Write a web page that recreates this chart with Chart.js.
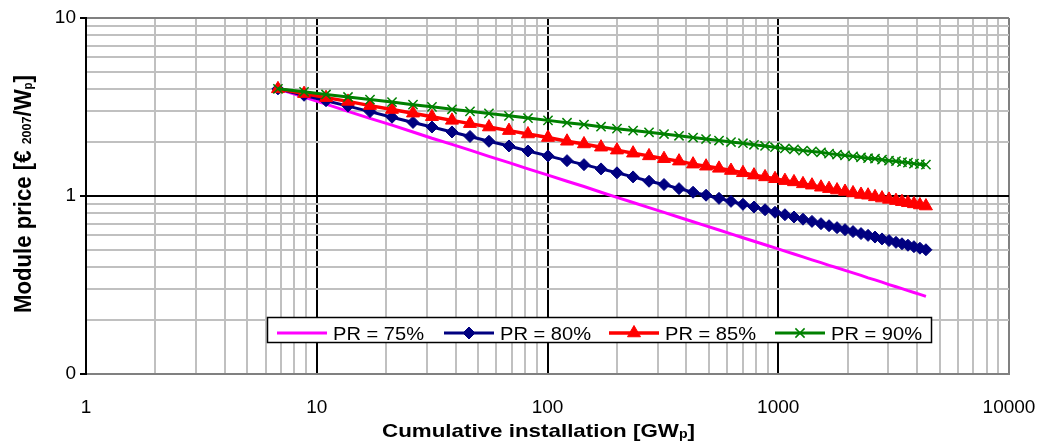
<!DOCTYPE html>
<html>
<head>
<meta charset="utf-8">
<script src="https://cdn.jsdelivr.net/npm/chart.js@4.4.0/dist/chart.umd.min.js"></script>
<style>
  html, body { margin: 0; padding: 0; background: #fff; }
  #wrap { width: 1042px; height: 443px; }
</style>
</head>
<body>
<div id="wrap"><canvas id="priceChart"></canvas></div>
<script>
// cumulative installation [GWp]
const installation = [6.79, 8.81, 10.97, 13.66, 17.01, 21.19, 26.13, 31.57, 38.55, 46.14,
  55.75, 68.08, 82.3, 100.5, 121.5, 143.9, 170.6, 200.0, 234.9, 275.4,
  319.8, 371.5, 427.4, 486.6, 553.7, 624.0, 703.2, 785, 876.6, 968.3,
  1069, 1170, 1280, 1400, 1532, 1660, 1798, 1947, 2109, 2284,
  2450, 2626, 2816, 3020, 3238, 3437, 3648, 3873, 4111, 4365];

// module price [EUR2007/Wp] for each progress ratio
const pr75 = [4.00, 3.59, 3.28, 2.99, 2.73, 2.50, 2.29, 2.11, 1.95, 1.81,
  1.67, 1.54, 1.42, 1.31, 1.21, 1.13, 1.05, 0.983, 0.919, 0.860,
  0.809, 0.760, 0.717, 0.680, 0.644, 0.613, 0.583, 0.557, 0.532, 0.511,
  0.490, 0.472, 0.455, 0.438, 0.422, 0.408, 0.395, 0.382, 0.370, 0.358,
  0.347, 0.338, 0.328, 0.318, 0.309, 0.302, 0.294, 0.287, 0.280, 0.273];
const pr80 = [4.00, 3.68, 3.43, 3.20, 2.98, 2.77, 2.59, 2.44, 2.29, 2.16,
  2.03, 1.91, 1.79, 1.68, 1.58, 1.50, 1.42, 1.35, 1.28, 1.21,
  1.16, 1.10, 1.05, 1.01, 0.970, 0.933, 0.898, 0.867, 0.837, 0.810,
  0.785, 0.762, 0.741, 0.720, 0.699, 0.681, 0.664, 0.647, 0.631, 0.615,
  0.601, 0.588, 0.574, 0.562, 0.549, 0.539, 0.529, 0.519, 0.509, 0.499];
const pr85 = [4.00, 3.76, 3.57, 3.40, 3.22, 3.06, 2.92, 2.79, 2.66, 2.55,
  2.44, 2.33, 2.23, 2.13, 2.03, 1.96, 1.88, 1.81, 1.74, 1.68,
  1.62, 1.57, 1.51, 1.47, 1.43, 1.39, 1.35, 1.31, 1.28, 1.25,
  1.22, 1.20, 1.17, 1.15, 1.12, 1.10, 1.08, 1.06, 1.04, 1.02,
  1.01, 0.989, 0.973, 0.957, 0.942, 0.929, 0.916, 0.903, 0.890, 0.878];
const pr90 = [4.00, 3.85, 3.72, 3.60, 3.48, 3.37, 3.26, 3.17, 3.07, 2.99,
  2.91, 2.82, 2.74, 2.66, 2.58, 2.52, 2.45, 2.39, 2.33, 2.28,
  2.23, 2.18, 2.13, 2.09, 2.05, 2.01, 1.98, 1.94, 1.91, 1.88,
  1.85, 1.83, 1.80, 1.78, 1.76, 1.73, 1.71, 1.69, 1.67, 1.65,
  1.63, 1.62, 1.60, 1.58, 1.57, 1.55, 1.54, 1.52, 1.51, 1.50];

const seriesLabels = ['PR = 75%', 'PR = 80%', 'PR = 85%', 'PR = 90%'];
const xTickValues = [1, 10, 100, 1000, 10000];
const xTickLabels = ['1', '10', '100', '1000', '10000'];
const yTickValues = [0.1, 1, 10];
const yTickLabels = ['0', '1', '10'];

const FONT = "'Liberation Sans', Arial, sans-serif";
Chart.defaults.font.family = FONT;
Chart.defaults.color = '#000';

const pts = arr => installation.map((x, i) => ({ x: x, y: arr[i] }));

// 1..9 ticks per decade, for the grid
function logTicks(min, max) {
  const out = [];
  for (let d = min; d < max * 1.0001; d *= 10) {
    for (let m = 1; m < 10; m++) {
      const v = m * d;
      if (v > max * 1.0001) break;
      out.push({ value: v });
    }
  }
  return out;
}
const findIdx = (vals, v) => vals.findIndex(t => Math.abs(Math.log10(t) - Math.log10(v)) < 1e-9);

const GRID = '#c0c0c0';
const FRAME = '#808080';

// axis titles + legend drawn by hand (subscripts, legend inside the plot)
function drawRich(ctx, parts, cx, base, target) {
  let w = 0;
  const widths = parts.map(p => { ctx.font = p.font; const m = ctx.measureText(p.t).width; w += m; return m; });
  const k = target / w;
  ctx.save();
  ctx.translate(cx - target / 2, base);
  ctx.scale(k, 1);
  let x = 0;
  parts.forEach((p, i) => {
    ctx.font = p.font;
    ctx.fillText(p.t, x, p.dy || 0);
    x += widths[i];
  });
  ctx.restore();
}

const decor = {
  id: 'decor',
  afterDraw(chart) {
    const ctx = chart.ctx;
    ctx.save();
    ctx.fillStyle = '#000';
    ctx.textBaseline = 'alphabetic';
    ctx.textAlign = 'left';

    // x title
    drawRich(ctx, [
      { t: 'Cumulative installation [GW', font: 'bold 19px ' + FONT },
      { t: 'p', font: 'bold 12px ' + FONT, dy: 1 },
      { t: ']', font: 'bold 19px ' + FONT }
    ], 538.5, 437, 313);

    // y title
    ctx.save();
    ctx.translate(31, 194);
    ctx.rotate(-Math.PI / 2);
    drawRich(ctx, [
      { t: 'Module price [\u20ac ', font: 'bold 23px ' + FONT },
      { t: '2007', font: 'bold 13px ' + FONT, dy: 0 },
      { t: '/W', font: 'bold 23px ' + FONT },
      { t: 'p', font: 'bold 12px ' + FONT, dy: 1 },
      { t: ']', font: 'bold 23px ' + FONT }
    ], 0, 0, 238);
    ctx.restore();

    // legend box
    ctx.fillStyle = '#fff';
    ctx.fillRect(267, 317, 665, 26);
    ctx.strokeStyle = '#000';
    ctx.lineWidth = 1.5;
    ctx.strokeRect(267.5, 317.5, 664, 25);

    const starts = [277, 444, 609, 775];
    chart.data.datasets.forEach((ds, i) => {
      const x0 = starts[i];
      const y = 333;
      ctx.strokeStyle = ds.borderColor;
      ctx.lineWidth = ds.borderWidth;
      ctx.beginPath();
      ctx.moveTo(x0, y);
      ctx.lineTo(x0 + 50, y);
      ctx.stroke();
      if (ds.pointRadius > 0) {
        ctx.fillStyle = ds.backgroundColor;
        ctx.strokeStyle = ds.borderColor;
        ctx.lineWidth = ds.pointBorderWidth;
        Chart.helpers.drawPoint(ctx, {
          pointStyle: ds.pointStyle, radius: ds.pointRadius, rotation: 0, borderWidth: ds.pointBorderWidth
        }, x0 + 25, y);
      }
      ctx.fillStyle = '#000';
      drawRich(ctx, [{ t: ds.label, font: '19px ' + FONT }], x0 + 56 + 45.5, 340, 91);
    });
    ctx.restore();
  }
};

new Chart(document.getElementById('priceChart'), {
  type: 'line',
  data: {
    datasets: [
      { label: seriesLabels[0], data: pts(pr75), borderColor: '#ff00ff', backgroundColor: '#ff00ff',
        borderWidth: 3, pointRadius: 0, order: 4 },
      { label: seriesLabels[1], data: pts(pr80), borderColor: '#000080', backgroundColor: '#000080',
        borderWidth: 3, pointStyle: 'rectRot', pointRadius: 6, pointBorderWidth: 1, order: 3 },
      { label: seriesLabels[2], data: pts(pr85), borderColor: '#ff0000', backgroundColor: '#ff0000',
        borderWidth: 3.5, pointStyle: 'triangle', pointRadius: 7.5, pointBorderWidth: 1, order: 2 },
      { label: seriesLabels[3], data: pts(pr90), borderColor: '#008000', backgroundColor: '#008000',
        borderWidth: 3, pointStyle: 'crossRot', pointRadius: 6.5, pointBorderWidth: 1.5, order: 1 }
    ]
  },
  options: {
    responsive: true,
    maintainAspectRatio: false,
    animation: false,
    layout: { padding: { left: 0, right: 33, top: 18, bottom: 0 } },
    plugins: { legend: { display: false }, tooltip: { enabled: false } },
    elements: { line: { tension: 0 } },
    scales: {
      x: {
        type: 'logarithmic',
        min: 1, max: 10000,
        afterBuildTicks: s => { s.ticks = logTicks(1, 10000); },
        afterFit: s => { s.height = 69; s.paddingLeft = 0; s.paddingRight = 0; },
        ticks: {
          autoSkip: false, maxRotation: 0, padding: 22,
          font: { size: 19 },
          callback: v => { const i = findIdx(xTickValues, v); return i >= 0 ? xTickLabels[i] : ''; }
        },
        grid: {
          drawTicks: false,
          lineWidth: 2,
          color: c => {
            const v = c.tick.value;
            if (findIdx([10000], v) >= 0) return FRAME;
            return findIdx(xTickValues, v) >= 0 ? '#000' : GRID;
          }
        },
        border: { display: true, color: FRAME, width: 2 }
      },
      y: {
        type: 'logarithmic',
        min: 0.1, max: 10,
        afterBuildTicks: s => { s.ticks = logTicks(0.1, 10); },
        afterFit: s => { s.width = 86; s.paddingTop = 0; s.paddingBottom = 0; },
        ticks: {
          autoSkip: false, padding: 4,
          font: { size: 19 },
          callback: v => { const i = findIdx(yTickValues, v); return i >= 0 ? yTickLabels[i] : ''; }
        },
        grid: {
          tickLength: 6,
          lineWidth: 2,
          tickColor: c => findIdx(yTickValues, c.tick.value) >= 0 ? '#000' : 'rgba(0,0,0,0)',
          color: c => {
            const v = c.tick.value;
            if (findIdx([0.1, 10], v) >= 0) return FRAME;
            return findIdx(yTickValues, v) >= 0 ? '#000' : GRID;
          }
        },
        border: { display: true, color: '#000', width: 2 }
      }
    }
  },
  plugins: [decor]
});
</script>
</body>
</html>
